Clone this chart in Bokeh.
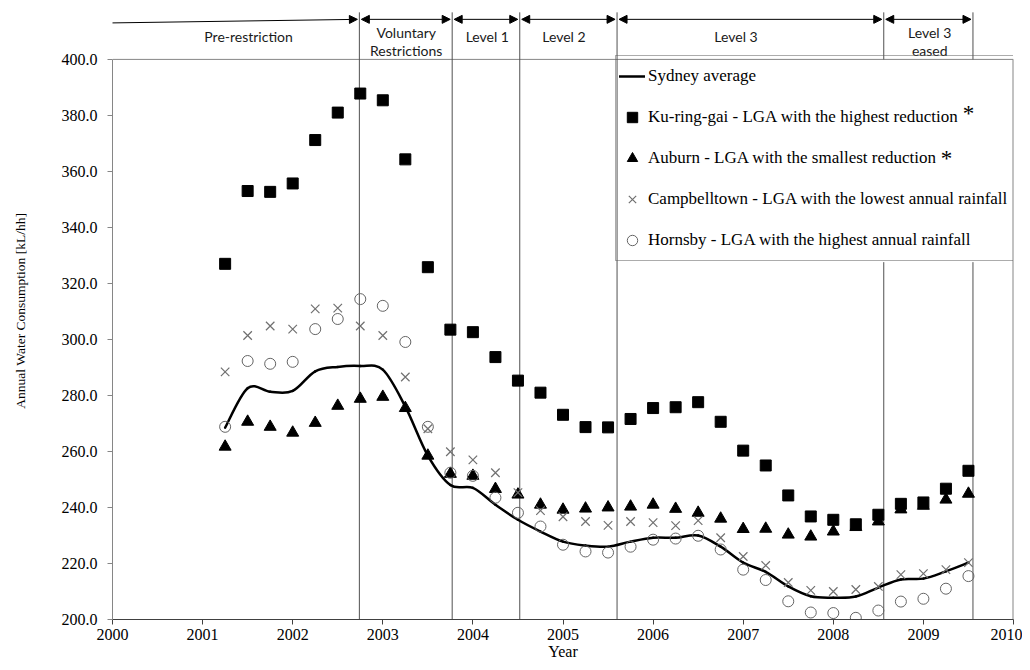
import math
from bokeh.plotting import figure
from bokeh.layouts import row
from bokeh.models import (Range1d, FixedTicker, PrintfTickFormatter, Legend, LegendItem,
                          Arrow, NormalHead, Label)
from bokeh.embed import file_html
from bokeh.resources import INLINE

# ---------------- data ----------------
quarters = [2001.25, 2001.5, 2001.75, 2002.0, 2002.25, 2002.5, 2002.75, 2003.0,
            2003.25, 2003.5, 2003.75, 2004.0, 2004.25, 2004.5, 2004.75, 2005.0,
            2005.25, 2005.5, 2005.75, 2006.0, 2006.25, 2006.5, 2006.75, 2007.0,
            2007.25, 2007.5, 2007.75, 2008.0, 2008.25, 2008.5, 2008.75, 2009.0,
            2009.25, 2009.5]

sydney_average = [268.5, 282.6, 281.3, 281.6, 288.6, 290.2, 290.5, 289.2,
                  276.0, 258.5, 248.0, 247.0, 241.0, 235.6, 231.4, 227.8,
                  226.4, 226.0, 227.8, 229.2, 229.2, 230.0, 226.0, 220.3,
                  217.0, 211.8, 208.3, 207.8, 208.2, 211.4, 214.3, 214.6,
                  217.2, 220.3]

ku_ring_gai = [327.0, 353.0, 352.7, 355.7, 371.2, 381.0, 387.8, 385.4,
               364.3, 325.8, 303.5, 302.6, 293.7, 285.3, 281.0, 273.1,
               268.7, 268.6, 271.6, 275.5, 275.8, 277.6, 270.6, 260.3,
               255.0, 244.3, 236.8, 235.6, 234.0, 237.4, 241.3, 241.8,
               246.7, 253.1]

auburn = [261.7, 270.6, 268.8, 266.7, 270.2, 276.3, 278.8, 279.5,
          275.5, 258.5, 252.0, 251.3, 246.6, 244.6, 241.0, 239.2,
          239.6, 240.0, 240.3, 241.0, 239.5, 238.1, 236.0, 232.3,
          232.4, 230.3, 229.6, 231.4, 233.0, 235.0, 239.3, 240.6,
          242.8, 244.9]

campbelltown = [288.4, 301.4, 304.8, 303.7, 310.9, 311.2, 304.8, 301.4,
                286.6, 268.1, 259.9, 257.0, 252.4, 245.3, 238.9, 236.7,
                235.0, 233.6, 235.0, 234.6, 233.5, 235.3, 229.2, 222.5,
                219.3, 213.2, 210.4, 210.0, 210.7, 211.8, 216.0, 216.4,
                217.8, 220.3]

hornsby = [268.8, 292.3, 291.3, 292.0, 303.7, 307.3, 314.4, 312.0,
           299.1, 268.8, 252.4, 251.3, 243.5, 238.1, 233.2, 226.7,
           224.3, 223.9, 226.0, 228.5, 228.9, 229.9, 225.0, 217.8,
           214.1, 206.5, 202.5, 202.3, 200.6, 203.2, 206.4, 207.4,
           211.0, 215.5]

year_ticks = [2000, 2001, 2002, 2003, 2004, 2005, 2006, 2007, 2008, 2009, 2010]
consumption_ticks = [200, 220, 240, 260, 280, 300, 320, 340, 360, 380, 400]

# restriction period boundaries (decimal year) and their names
restriction_boundaries = [2002.74, 2003.77, 2004.52, 2005.60, 2008.56, 2009.55]
restriction_periods = [["Pre-restriction"], ["Voluntary", "Restrictions"], ["Level 1"],
                       ["Level 2"], ["Level 3"], ["Level 3", "eased"]]

series_names = ["Sydney average",
                "Ku-ring-gai - LGA with the highest reduction",
                "Auburn - LGA with the smallest reduction",
                "Campbelltown - LGA with the lowest annual rainfall",
                "Hornsby - LGA with the highest annual rainfall"]

y_title = "Annual Water Consumption  [kL/hh]"
x_title = "Year"

# ---------------- layout constants ----------------
SERIF = "Liberation Serif"
Y_MIN, Y_MAX, Y_TOP = 200, 400, 421.03   # space above Y_MAX holds the period band
X_MIN, X_MAX = 2000, 2010
LEGEND_BOTTOM = 327.6     # value level of the legend box bottom edge
LEGEND_LEFT = 2005.61
TITLE_W = 40
H = 662

# ---------------- y-axis title strip ----------------
tfig = figure(width=TITLE_W, height=H, x_range=Range1d(0, TITLE_W), y_range=Range1d(0, H),
              output_backend="svg", toolbar_location=None,
              min_border_left=0, min_border_right=0, min_border_top=0, min_border_bottom=0)
tfig.axis.visible = False
tfig.grid.visible = False
tfig.outline_line_color = None
tfig.add_layout(Label(x=20, y=H - 330, text=y_title, angle=math.pi / 2, text_font=SERIF,
                      text_font_size="13.5px", text_align="center", text_baseline="middle",
                      text_color="black"))

# ---------------- main chart ----------------
p = figure(width=1022 - TITLE_W, height=H, x_range=Range1d(X_MIN, X_MAX),
           y_range=Range1d(Y_MIN, Y_TOP), output_backend="svg", toolbar_location=None,
           min_border_left=112 - TITLE_W, min_border_right=9, min_border_top=0,
           min_border_bottom=42)
p.xgrid.visible = False
p.ygrid.visible = False
p.outline_line_color = None
p.background_fill_color = "white"
p.border_fill_color = "white"

p.xaxis.ticker = FixedTicker(ticks=year_ticks)
p.yaxis.ticker = FixedTicker(ticks=consumption_ticks)
p.yaxis.bounds = (Y_MIN, Y_MAX)
p.yaxis.formatter = PrintfTickFormatter(format="%.1f")
for ax in (p.xaxis, p.yaxis):
    ax.major_label_text_font = SERIF
    ax.major_label_text_font_size = "16px"
    ax.major_label_text_color = "black"
    ax.major_tick_in = 0
    ax.major_tick_out = 5
    ax.minor_tick_in = 0
    ax.minor_tick_out = 0
p.xaxis.axis_line_color = "#404040"
p.xaxis.major_tick_line_color = "#404040"
p.yaxis.axis_line_color = "#868686"
p.yaxis.major_tick_line_color = "#868686"
p.xaxis.major_label_standoff = 4
p.yaxis.major_label_standoff = 10
p.xaxis.axis_label = x_title
p.xaxis.axis_label_text_font = SERIF
p.xaxis.axis_label_text_font_size = "16px"
p.xaxis.axis_label_text_font_style = "normal"
p.xaxis.axis_label_text_color = "black"
p.xaxis.axis_label_standoff = 0

# plot-area border (top and right)
p.segment(x0=[X_MIN, X_MAX], y0=[Y_MAX, Y_MIN], x1=[X_MAX, X_MAX], y1=[Y_MAX, Y_MAX],
          line_color="#868686", line_width=[1, 2])

# ---------------- restriction boundaries & period band ----------------
y_arrow = 414.3
y_tick_top = 416.8
gap = 0.022
seg_x, seg_y0, seg_y1 = [], [], []
for b in restriction_boundaries:
    if b > LEGEND_LEFT:          # hidden behind the legend box between its bottom and Y_MAX
        seg_x += [b, b]; seg_y0 += [Y_MIN, Y_MAX]; seg_y1 += [LEGEND_BOTTOM, y_tick_top]
    else:
        seg_x += [b]; seg_y0 += [Y_MIN]; seg_y1 += [y_tick_top]
p.segment(x0=seg_x, y0=seg_y0, x1=seg_x, y1=seg_y1, line_color="#505050", line_width=1)

starts = [1999.94] + restriction_boundaries[:-1]
ends = restriction_boundaries
for i, (s, e) in enumerate(zip(starts, ends)):
    head_start = None if i == 0 else NormalHead(size=8, fill_color="black", line_color="black")
    p.add_layout(Arrow(x_start=s + (0 if i == 0 else gap), y_start=(413.0 if i == 0 else y_arrow),
                       x_end=e - gap, y_end=y_arrow, start=head_start,
                       end=NormalHead(size=8, fill_color="black", line_color="black"),
                       line_color="black", line_width=1))

period_label_x = [2001.51, 2003.26, 2004.16, 2005.01, 2006.92, 2009.07]
for lx, lines in zip(period_label_x, restriction_periods):
    ys = [408.0] if len(lines) == 1 else [409.6, 403.0]
    for txt, ly in zip(lines, ys):
        p.add_layout(Label(x=lx, y=ly, text=txt, text_font="Lato", text_font_size="14px",
                           text_align="center", text_baseline="middle", text_color="#1a1a1a"))

# ---------------- series ----------------
n = len(quarters)
def pt(i):
    i = min(max(i, 0), n - 1)
    return quarters[i], sydney_average[i]
bx0, by0, bx1, by1, cx0, cy0, cx1, cy1 = ([] for _ in range(8))
for i in range(n - 1):
    xa, ya = pt(i - 1); xb, yb = pt(i); xc, yc = pt(i + 1); xd, yd = pt(i + 2)
    bx0.append(xb); by0.append(yb); bx1.append(xc); by1.append(yc)
    cx0.append(xb + (xc - xa) / 6); cy0.append(yb + (yc - ya) / 6)
    cx1.append(xc - (xd - xb) / 6); cy1.append(yc - (yd - yb) / 6)
r_line = p.bezier(x0=bx0, y0=by0, x1=bx1, y1=by1, cx0=cx0, cy0=cy0, cx1=cx1, cy1=cy1,
                  line_color="black", line_width=2.5, line_cap="round")

r_sq = p.scatter(quarters, ku_ring_gai, marker="square", size=11,
                 fill_color="black", line_color="black")
r_tri = p.scatter(quarters, auburn, marker="triangle", size=12,
                  fill_color="black", line_color="black")
r_x = p.scatter(quarters, campbelltown, marker="x", size=12,
                line_color="#707070", line_width=1.2)
r_c = p.scatter(quarters, hornsby, marker="circle", size=11,
                fill_color=None, line_color="#656565", line_width=1)

legend = Legend(items=[LegendItem(label=series_names[0], renderers=[r_line]),
                       LegendItem(label=series_names[1], renderers=[r_sq]),
                       LegendItem(label=series_names[2], renderers=[r_tri]),
                       LegendItem(label=series_names[3], renderers=[r_x]),
                       LegendItem(label=series_names[4], renderers=[r_c])],
                location=(503, 358), padding=3, spacing=7, margin=0,
                glyph_width=26, glyph_height=34, label_height=34, label_width=363,
                label_standoff=3, label_text_font=SERIF, label_text_font_size="17px",
                label_text_color="black", border_line_color="#595959",
                border_line_width=1, background_fill_alpha=0)
p.add_layout(legend, "center")

# superscript asterisks after two legend labels
for ax_, ay_ in [(2009.50, 380.6), (2009.255, 364.6)]:
    p.add_layout(Label(x=ax_, y=ay_, text="*", text_font=SERIF, text_font_size="23px",
                       text_align="center", text_baseline="middle", text_color="black",
                       level="overlay"))

open("out.html", "w").write(file_html(row(tfig, p, spacing=0), INLINE))
